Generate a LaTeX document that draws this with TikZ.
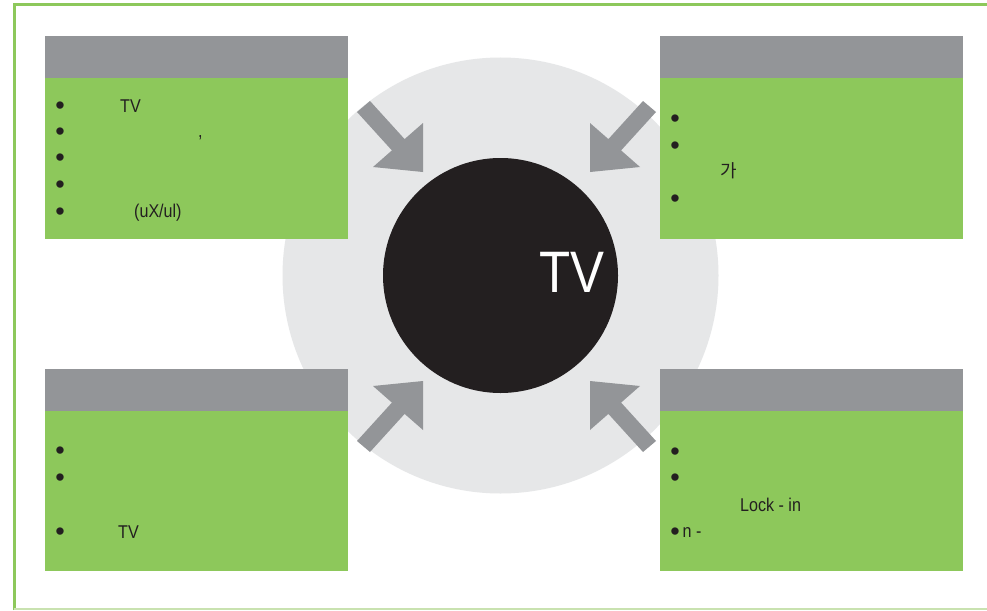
\documentclass[tikz,border=0pt]{standalone}
\usepackage{fontspec}
\setmainfont{Liberation Sans}
\newfontfamily\lat[FakeStretch=0.87]{Liberation Sans}
\newfontfamily\kor{Noto Sans CJK KR}
\definecolor{grn}{HTML}{8DC85B}
\definecolor{lgrn}{HTML}{C9E2B0}
\definecolor{hdr}{HTML}{939598}
\definecolor{pale}{HTML}{E6E7E8}
\definecolor{ink}{HTML}{231F20}
\tikzset{
  hdrbox/.style={rectangle, fill=hdr, draw=none, inner sep=0, anchor=north west, minimum width=303pt, minimum height=42pt},
  bodybox/.style={rectangle, fill=grn, draw=none, inner sep=0, anchor=north west, minimum width=303pt},
  txt/.style={anchor=base west, inner sep=0, text=ink, font=\lat\fontsize{18.5}{20}\selectfont},
  bul/.style={anchor=north, inner sep=0, text=ink, font=\rmfamily\fontsize{27}{27}\selectfont},
  blockarrow/.style={fill=hdr, draw=none},
  frameline/.style={draw=grn, line width=3pt},
}
\newcommand{\arrowshape}{(-136.5,-175.5) -- (-101.9,-137.4) -- (-83.5,-153.5) -- (-83.5,-104.5) -- (-133.5,-109.5) -- (-114.6,-126.1) -- (-149.5,-164.5) -- cycle}
\begin{document}
\begin{tikzpicture}[x=1pt,y=-1pt]
\useasboundingbox (0,0) rectangle (987,610);
\fill[white] (0,0) rectangle (987,610);
% frame
\draw[frameline] (14,610) -- (14,4.2) -- (987,4.2);
\draw[draw=lgrn, line width=1.5pt] (14,608.8) -- (987,608.8);
% halo and boxes
\node[circle, fill=pale, inner sep=0, minimum size=436pt] (halo) at (500.5,275.5) {};
\node[hdrbox] (tlh) at (45,36) {};
\node[bodybox, minimum height=161pt] (tlb) at (45,78) {};
\node[hdrbox] (trh) at (660,36) {};
\node[bodybox, minimum height=161pt] (trb) at (660,78) {};
\node[hdrbox] (blh) at (45,369) {};
\node[bodybox, minimum height=160pt] (blb) at (45,411) {};
\node[hdrbox] (brh) at (660,369) {};
\node[bodybox, minimum height=160pt] (brb) at (660,411) {};
% core
\node[circle, fill=ink, inner sep=0, minimum size=235pt] (core) at (500.5,275.5) {};
\node[anchor=base west, inner sep=0, text=white, font=\lat\fontsize{58.5}{60}\selectfont] (tv) at (539,292) {TV};
% arrows
\begin{scope}[shift={(506.5,276.5)}]
  \fill[blockarrow] \arrowshape;
  \begin{scope}[xscale=-1]\fill[blockarrow] \arrowshape;\end{scope}
  \begin{scope}[yscale=-1]\fill[blockarrow] \arrowshape;\end{scope}
  \begin{scope}[xscale=-1,yscale=-1]\fill[blockarrow] \arrowshape;\end{scope}
\end{scope}
% top-left texts
\foreach \y [count=\i] in {105.3,131,157.7,184.3,211} \node[bul] (tlbul\i) at (60,\y-3.8) {•};
\node[txt] (tl1) at (120,112) {TV};
\node[txt] (tl2) at (198,137.5) {,};
\node[txt] (tl5) at (134,217.5) {(uX/ul)};
% top-right texts
\foreach \y [count=\i] in {118.3,145,198.3} \node[bul] (trbul\i) at (675,\y-3.8) {•};
\node[anchor=base west, inner sep=0, text=ink, font=\kor\fontsize{18}{20}\selectfont] (tr2) at (720,177) {가};
% bottom-left texts
\foreach \y [count=\i] in {450.7,477.3,531} \node[bul] (blbul\i) at (60,\y-3.8) {•};
\node[txt] (bl3) at (118,538) {TV};
% bottom-right texts
\foreach \y [count=\i] in {451,477.3,531} \node[bul] (brbul\i) at (675,\y-3.8) {•};
\node[txt] (br2) at (740,511) {Lock - in};
\node[txt] (br3) at (682.5,537.5) {n -};
\end{tikzpicture}
\end{document}
